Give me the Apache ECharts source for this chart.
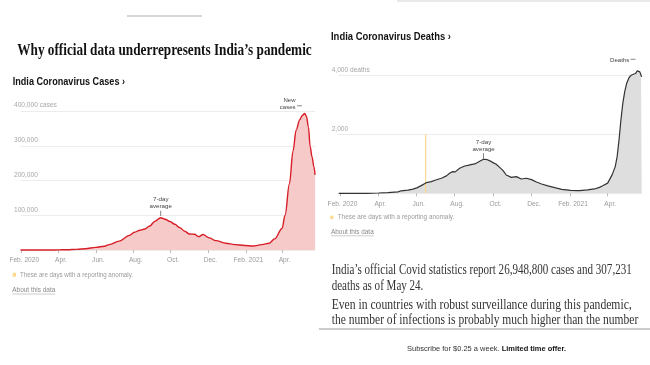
<!DOCTYPE html>
<html><head><meta charset="utf-8">
<script src="https://cdn.jsdelivr.net/npm/echarts@6/dist/echarts.min.js"></script>
<style>html,body{margin:0;padding:0;background:#fff}#c{width:650px;height:365px}</style>
</head><body><div id="c"></div>
<script>
// ---------- data ----------
const caseDates = ['2020-01-30','2020-03-01','2020-03-20','2020-04-01','2020-04-15','2020-05-01','2020-05-15','2020-06-01','2020-06-15','2020-06-23','2020-07-09','2020-07-26','2020-08-03','2020-08-12','2020-08-20','2020-08-28','2020-09-05','2020-09-15','2020-09-22','2020-09-30','2020-10-08','2020-10-16','2020-10-24','2020-11-01','2020-11-09','2020-11-16','2020-11-23','2020-12-03','2020-12-14','2020-12-30','2021-01-14','2021-01-30','2021-02-13','2021-02-27','2021-03-11','2021-03-20','2021-04-01','2021-04-06','2021-04-13','2021-04-19','2021-04-24','2021-04-30','2021-05-04','2021-05-08','2021-05-11','2021-05-14','2021-05-17','2021-05-20','2021-05-23','2021-05-25'];
const caseValues = [0,0,30,250,900,1900,3800,7500,11000,15500,25500,42000,51000,57000,60500,69000,82000,93000,88500,82000,74000,64500,54000,46000,45500,38500,44500,35000,27000,19500,15500,13000,11500,15500,19500,32000,62000,100000,190000,285000,345000,375000,387000,393000,384000,355000,297000,268000,240000,216000];

const deathDates = ['2020-01-30','2020-03-15','2020-04-02','2020-04-17','2020-05-03','2020-05-08','2020-05-19','2020-05-27','2020-06-02','2020-06-09','2020-06-17','2020-06-25','2020-07-02','2020-07-11','2020-07-19','2020-07-24','2020-07-29','2020-08-02','2020-08-09','2020-08-17','2020-08-22','2020-08-27','2020-09-02','2020-09-07','2020-09-12','2020-09-16','2020-09-22','2020-09-26','2020-10-01','2020-10-06','2020-10-12','2020-10-17','2020-10-22','2020-10-30','2020-11-07','2020-11-15','2020-11-23','2020-12-01','2020-12-09','2020-12-17','2020-12-27','2021-01-07','2021-01-18','2021-02-01','2021-02-15','2021-02-28','2021-03-11','2021-03-19','2021-03-24','2021-04-01','2021-04-08','2021-04-13','2021-04-16','2021-04-19','2021-04-22','2021-04-25','2021-04-28','2021-05-01','2021-05-05','2021-05-08','2021-05-11','2021-05-15','2021-05-18','2021-05-20','2021-05-22','2021-05-24','2021-05-25'];
const deathValues = [0,0,10,25,50,85,105,140,185,260,360,395,450,510,590,680,735,725,850,925,945,970,995,1050,1110,1155,1140,1100,1040,985,870,770,620,540,565,485,510,465,385,315,250,190,135,100,90,113,147,200,253,345,625,905,1243,1807,2483,3047,3440,3720,3925,4000,4037,4060,4150,4195,4115,4000,3946];

const anomalyDates = ['2020-06-16'];
const anomalyValues = [2003];

const tickDates = ['2020-02-01','2020-04-01','2020-06-01','2020-08-01','2020-10-01','2020-12-01','2021-02-01','2021-04-01'];
const tickLabels = ['Feb. 2020','Apr.','Jun.','Aug.','Oct.','Dec.','Feb. 2021','Apr.'];
const caseTicks = [100000,200000,300000,400000];
const caseTickLabels = ['100,000','200,000','300,000','400,000 cases'];
const deathTicks = [2000,4000];
const deathTickLabels = ['2,000','4,000 deaths'];

// ---------- helpers ----------
const t = s => { const [y,m,d] = s.split('-').map(Number); return Date.UTC(y, m-1, d); };
const tickTs = tickDates.map(t);
const SANS = '"Liberation Sans", Arial, sans-serif';
const SERIF = '"Liberation Serif", "Times New Roman", serif';
const ctx = document.createElement('canvas').getContext('2d');
function measure(text, font){ ctx.font = font; return ctx.measureText(text).width; }
function txt(text, x, y, font, target, opts){
  opts = opts || {};
  const w = measure(text.split('\n')[0], font);
  const sx = opts.scale || (target ? target / w : 1);
  const st = {text:text, x:0, y:0, font:font, fill:opts.color||'#333', align:opts.align||'left', verticalAlign:'middle'};
  if (opts.lineHeight) st.lineHeight = opts.lineHeight;
  return {type:'text', x:x, y:y, scaleX:sx, z:100, style:st};
}
function xLabel(v){ let best=0, bd=Infinity; tickTs.forEach((tt,i)=>{const d=Math.abs(tt-v); if(d<bd){bd=d;best=i;}}); return tickLabels[best]; }

const xMin = t('2020-01-30'), xMax = t('2021-05-25');
function mkX(grid){
  return {type:'value', gridIndex:grid, min:xMin, max:xMax, scale:true,
    axisLine:{show:false}, splitLine:{show:false},
    axisTick:{show:true, customValues:tickTs, length:3, lineStyle:{color:'#bbb', width:1}},
    axisLabel:{customValues:tickTs, formatter:xLabel, color:'#9a9a9a', fontSize:6.6, fontFamily:SANS, margin:7, padding:[0,0,0,5], hideOverlap:false, showMinLabel:true, showMaxLabel:true}};
}
function mkY(grid, max, interval, ticks, labels, margin){
  return {type:'value', gridIndex:grid, min:0, max:max, interval:interval,
    axisLine:{show:false}, axisTick:{show:false},
    splitLine:{lineStyle:{color:'#ececec', width:1}},
    axisLabel:{align:'left', verticalAlign:'bottom', margin:margin, color:'#a6a6a6', fontSize:6.6, fontFamily:SANS, lineHeight:8, padding:[0,0,1.5,0],
      formatter:v => { const i = ticks.indexOf(v); return i < 0 ? '' : labels[i]; }}};
}

const bodyFont = '14px ' + SERIF;
const l1 = "India\u2019s official Covid statistics report 26,948,800 cases and 307,231";
const s1 = 300 / measure(l1, bodyFont);
const subA = 'Subscribe for $0.25 a week. ', subB = 'Limited time offer.';
const subW = measure(subA, '7.5px ' + SANS) + measure(subB, 'bold 7.5px ' + SANS);
const subS = 159 / subW;

const chart = echarts.init(document.getElementById('c'), null, {renderer:'canvas'});
chart.setOption({
  backgroundColor:'#fff',
  animation:false,
  grid:[
    {left:20.5, top:111, width:294.6, height:139},
    {left:338.7, top:75.3, width:303, height:118}
  ],
  xAxis:[mkX(0), mkX(1)],
  yAxis:[mkY(0, 400000, 100000, caseTicks, caseTickLabels, 6.5), mkY(1, 4000, 2000, deathTicks, deathTickLabels, 7)],
  series:[
    {type:'line', xAxisIndex:0, yAxisIndex:0, data:caseDates.map((d,i)=>[t(d), caseValues[i]]),
      showSymbol:false, smooth:0.35, smoothMonotone:'x', clip:false,
      lineStyle:{color:'#d71e28', width:1.4}, areaStyle:{color:'#f7caca', opacity:1},
      markPoint:{symbol:'rect', symbolSize:[0.8,5.3], symbolOffset:[0,-4.4], itemStyle:{color:'#666'}, silent:true,
        label:{show:true, position:'top', distance:0.5, formatter:'7-day\naverage', color:'#444', fontSize:6.2, lineHeight:7.4, fontFamily:SANS},
        data:[{coord:[t('2020-09-15'), 93000]}]}},
    {type:'line', xAxisIndex:1, yAxisIndex:1, data:deathDates.map((d,i)=>[t(d), deathValues[i]]),
      showSymbol:false, clip:false,
      lineStyle:{color:'#333', width:1.2}, areaStyle:{color:'#dedede', opacity:1},
      markPoint:{symbol:'rect', symbolSize:[0.8,6], symbolOffset:[0,-3], itemStyle:{color:'#666'}, silent:true,
        label:{show:true, position:'top', distance:0.5, formatter:'7-day\naverage', color:'#444', fontSize:6.2, lineHeight:6.8, fontFamily:SANS},
        data:[{coord:[t('2020-09-16'), 1155]}]}},
    {type:'bar', xAxisIndex:1, yAxisIndex:1, barWidth:1.2, data:anomalyDates.map((d,i)=>[t(d), anomalyValues[i]]),
      itemStyle:{color:'#fbd98f'}, z:3}
  ],
  graphic:[
    {type:'line', shape:{x1:127, y1:16, x2:202, y2:16}, style:{stroke:'#c8c8c8', lineWidth:1.5}},
    {type:'line', shape:{x1:397, y1:1, x2:650, y2:1}, style:{stroke:'#e2e2e2', lineWidth:1.5}},
    txt('Why official data underrepresents India\u2019s pandemic', 17.3, 51, 'bold 17px ' + SERIF, 294.4, {color:'#121212'}),
    txt('India Coronavirus Cases \u203a', 12.7, 82.4, 'bold 10px ' + SANS, 112.3, {color:'#121212'}),
    txt('India Coronavirus Deaths \u203a', 331, 37, 'bold 10px ' + SANS, 120, {color:'#121212'}),
    {type:'rect', shape:{x:12.7, y:272.7, width:3.3, height:4}, style:{fill:'#fbd98f'}},
    txt('These are days with a reporting anomaly.', 20, 274.7, '6.6px ' + SANS, 113, {color:'#9a9a9a'}),
    txt('About this data', 12.3, 290.5, '6.6px ' + SANS, 43, {color:'#888'}),
    {type:'line', shape:{x1:12.3, y1:294, x2:55.3, y2:294}, style:{stroke:'#aaa', lineWidth:0.6}},
    {type:'rect', shape:{x:330.3, y:215.7, width:3, height:3.4}, style:{fill:'#fbd98f'}},
    txt('These are days with a reporting anomaly.', 337.7, 217.3, '6.6px ' + SANS, 116.6, {color:'#9a9a9a'}),
    txt('About this data', 331, 232.3, '6.6px ' + SANS, 42.7, {color:'#888'}),
    {type:'line', shape:{x1:331, y1:235.8, x2:373.7, y2:235.8}, style:{stroke:'#aaa', lineWidth:0.6}},
    txt('New\ncases', 295.5, 103.6, '6px ' + SANS, 0, {color:'#444', align:'right', lineHeight:7.3}),
    {type:'line', shape:{x1:297, y1:105.8, x2:302, y2:105.8}, style:{stroke:'#555', lineWidth:0.7}},
    txt('Deaths', 610, 60.3, '6px ' + SANS, 19.3, {color:'#444'}),
    {type:'line', shape:{x1:630.7, y1:59.3, x2:635.5, y2:59.3}, style:{stroke:'#555', lineWidth:0.7}},
    txt(l1, 331.7, 270, bodyFont, 300, {color:'#333'}),
    txt('deaths as of May 24.', 331.7, 286, bodyFont, 0, {color:'#333', scale:s1}),
    txt('Even in countries with robust surveillance during this pandemic,', 331.7, 305, bodyFont, 300, {color:'#333'}),
    txt('the number of infections is probably much higher than the number', 331.7, 320.8, bodyFont, 306.6, {color:'#333'}),
    {type:'rect', z:150, shape:{x:319, y:329, width:331, height:36}, style:{fill:'#fff'}},
    {type:'line', z:151, shape:{x1:319, y1:329, x2:650, y2:329}, style:{stroke:'#9a9a9a', lineWidth:1.2}},
    {type:'text', z:152, x:486.5, y:349.3, scaleX:subS,
      style:{text:'{a|' + subA + '}{b|' + subB + '}', x:0, y:0, align:'center', verticalAlign:'middle',
        rich:{a:{font:'7.5px ' + SANS, fill:'#333'}, b:{font:'bold 7.5px ' + SANS, fill:'#111'}}}}
  ]
});
</script></body></html>
